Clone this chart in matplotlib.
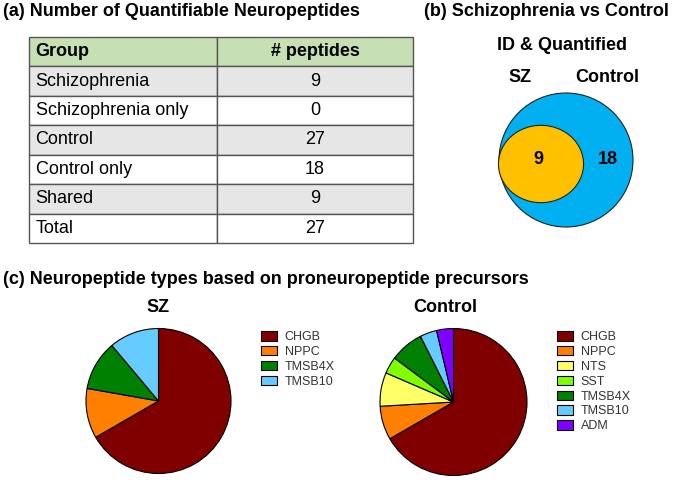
import matplotlib
matplotlib.use("Agg")
import matplotlib.pyplot as plt
from matplotlib.patches import Circle, Ellipse
import numpy as np

plt.rcParams["font.family"] = ["Liberation Sans", "DejaVu Sans"]

# (a) table data
table_header = ["Group", "# peptides"]
table_groups = ["Schizophrenia", "Schizophrenia only", "Control",
                "Control only", "Shared", "Total"]
table_counts = [9, 0, 27, 18, 9, 27]

# (b) venn data
venn_sz_total = 9
venn_ctrl_total = 27
venn_shared = 9
venn_ctrl_only = 18

# (c) pie data
sz_labels = ["CHGB", "NPPC", "TMSB4X", "TMSB10"]
sz_counts = [6, 1, 1, 1]
ctrl_labels = ["CHGB", "NPPC", "NTS", "SST", "TMSB4X", "TMSB10", "ADM"]
ctrl_counts = [18, 2, 2, 1, 2, 1, 1]

colors = {
    "CHGB": "#800000", "NPPC": "#ff8000", "NTS": "#ffff66", "SST": "#80ff00",
    "TMSB4X": "#008000", "TMSB10": "#66ccff", "ADM": "#8000ff",
}

W, H = 675, 480
fig = plt.figure(figsize=(W / 100, H / 100), dpi=100)
ax = fig.add_axes([0, 0, 1, 1])
ax.set_xlim(0, W)
ax.set_ylim(H, 0)
ax.axis("off")

# panel titles
ax.text(3, 11, "(a) Number of Quantifiable Neuropeptides", fontsize=13,
        fontweight="bold", va="center", ha="left")
ax.text(424, 11, "(b) Schizophrenia vs Control", fontsize=13,
        fontweight="bold", va="center", ha="left")
ax.text(3, 280, "(c) Neuropeptide types based on proneuropeptide precursors",
        fontsize=13, fontweight="bold", va="center", ha="left")

# ---- (a) table
tx0, tx1, ty0, ty1, split = 29, 413, 37, 243, 217
tbl = ax.table(
    cellText=[[g, str(c)] for g, c in zip(table_groups, table_counts)],
    colLabels=table_header,
    cellLoc="center",
    colWidths=[(split - tx0) / (tx1 - tx0), (tx1 - split) / (tx1 - tx0)],
    bbox=[tx0 / W, (H - ty1) / H, (tx1 - tx0) / W, (ty1 - ty0) / H],
)
tbl.auto_set_font_size(False)
tbl.set_fontsize(13)
for (r, c), cell in tbl.get_celld().items():
    cell.set_edgecolor("#555555")
    cell.set_linewidth(1.0)
    if r == 0:
        cell.set_facecolor("#c6e0b4")
        cell.get_text().set_fontweight("bold")
    elif r % 2 == 1:
        cell.set_facecolor("#e6e6e6")
    else:
        cell.set_facecolor("white")
    if c == 0:
        cell._loc = "left"
        cell.PAD = 0.035
        cell.get_text().set_horizontalalignment("left")

# ---- (b) venn
ctrl_r = 67
sz_r = ctrl_r * np.sqrt(venn_sz_total / venn_ctrl_total)
ax.add_patch(Circle((566, 160), ctrl_r, facecolor="#00b0f0",
                    edgecolor="#222222", lw=0.8))
ax.add_patch(Ellipse((541, 164), 2 * sz_r * 1.1, 2 * sz_r,
                     facecolor="#ffc000", edgecolor="#222222", lw=0.8))
ax.text(562, 45, "ID & Quantified", fontsize=13, fontweight="bold",
        ha="center", va="center")
ax.text(520, 78, "SZ", fontsize=13, fontweight="bold", ha="center", va="center")
ax.text(607, 78, "Control", fontsize=13, fontweight="bold", ha="center",
        va="center")
ax.text(538, 159, str(venn_shared), fontsize=13, fontweight="bold",
        ha="center", va="center")
ax.text(608, 159, str(venn_ctrl_only), fontsize=13, fontweight="bold",
        ha="center", va="center")


# ---- (c) pies
def draw_pie(cx, cy, r, labels, counts, title, title_x, leg_x, leg_y):
    pad = 1.03
    box = r * pad
    pax = fig.add_axes([(cx - box) / W, (H - cy - box) / H, 2 * box / W, 2 * box / H])
    wedges, _ = pax.pie(counts, colors=[colors[l] for l in labels],
                        startangle=90, counterclock=False,
                        wedgeprops=dict(edgecolor="black", linewidth=0.8))
    pax.set_xlim(-pad, pad)
    pax.set_ylim(-pad, pad)
    pax.set_aspect("equal")
    ax.text(title_x, 307, title, fontsize=13, fontweight="bold",
            ha="center", va="center")
    leg = fig.legend(wedges, labels, loc="upper left",
                     bbox_to_anchor=(leg_x / W, (H - leg_y) / H),
                     frameon=False, fontsize=9, handlelength=1.3,
                     handleheight=0.8, handletextpad=0.6, labelspacing=0.22,
                     borderpad=0, borderaxespad=0)
    for t in leg.get_texts():
        t.set_color("#333333")


draw_pie(158.5, 401, 72.5, sz_labels, sz_counts, "SZ", 158.5, 261, 331)
draw_pie(453.5, 402, 73.5, ctrl_labels, ctrl_counts, "Control", 445, 557, 331)

fig.savefig("out.png", dpi=100)
